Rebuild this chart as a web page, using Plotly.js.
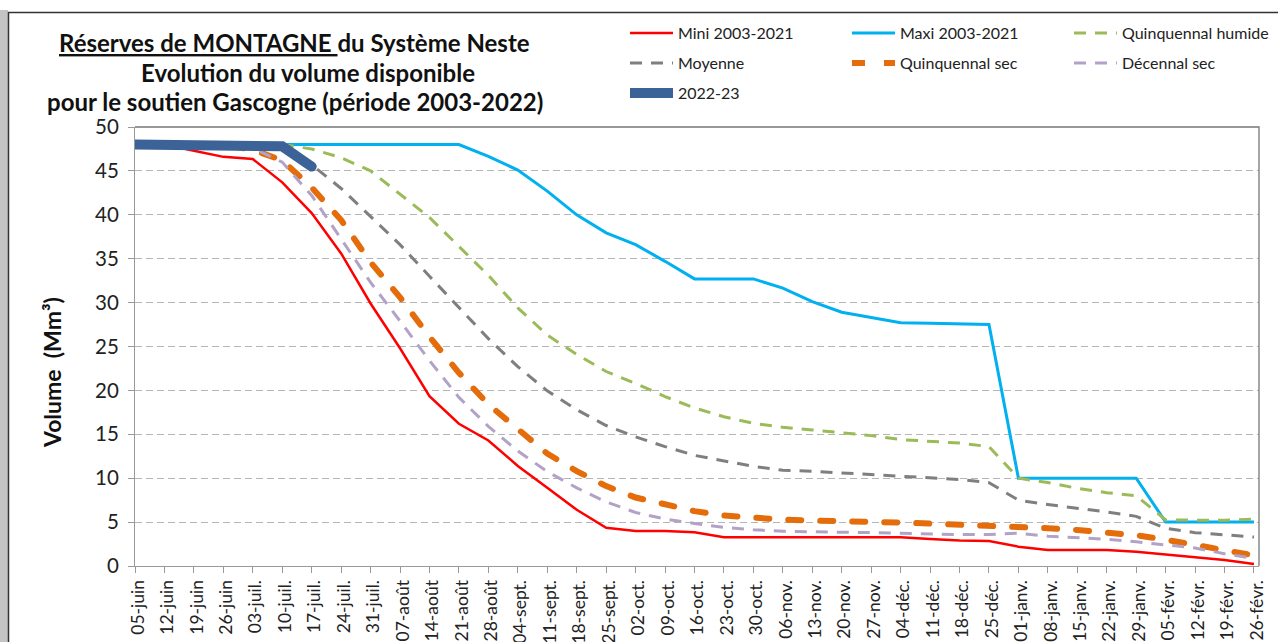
<!DOCTYPE html>
<html>
<head>
<meta charset="utf-8">
<script src="https://cdn.plot.ly/plotly-3.0.1.min.js"></script>
<style>
  html, body { margin: 0; padding: 0; background: #fff; }
  #chart { width: 1278px; height: 642px; }
</style>
</head>
<body>
<div id="chart"></div>
<script>
// ---- Data ----
const weekLabels = ['05-juin','12-juin','19-juin','26-juin','03-juil.','10-juil.','17-juil.','24-juil.','31-juil.','07-août','14-août','21-août','28-août','04-sept.','11-sept.','18-sept.','25-sept.','02-oct.','09-oct.','16-oct.','23-oct.','30-oct.','06-nov.','13-nov.','20-nov.','27-nov.','04-déc.','11-déc.','18-déc.','25-déc.','01-janv.','08-janv.','15-janv.','22-janv.','29-janv.','05-févr.','12-févr.','19-févr.','26-févr.'];

const mini = [48,48,47.3,46.6,46.35,43.7,40.2,35.6,29.9,24.8,19.35,16.2,14.3,11.4,8.9,6.4,4.35,4.0,4.0,3.85,3.27,3.27,3.27,3.27,3.3,3.3,3.27,3.08,2.9,2.85,2.2,1.82,1.82,1.82,1.63,1.33,0.99,0.68,0.23];
const maxi = [48,48,48,48,48,48,48,48,48,48,48,48,46.65,45.1,42.7,40.0,37.95,36.6,34.7,32.7,32.7,32.7,31.65,30.1,28.9,28.3,27.7,27.65,27.6,27.5,10.0,10.0,10.0,10.0,10.0,5.0,5.0,5.0,5.0];
const quinqHumide = [48,48,48,48,48,48,47.5,46.5,45.0,42.3,39.7,36.4,33.1,29.4,26.3,24.1,22.15,20.8,19.3,18.0,17.0,16.25,15.8,15.5,15.15,14.85,14.4,14.2,14.0,13.6,10.0,9.5,8.85,8.35,8.0,5.25,5.2,5.2,5.35];
const moyenne = [48,48,48,48,48,47.8,45.7,43.0,39.8,36.6,33.0,29.4,25.9,22.7,19.95,17.8,16.0,14.7,13.6,12.6,11.95,11.35,10.9,10.8,10.6,10.4,10.2,10.05,9.85,9.5,7.5,7.0,6.6,6.15,5.65,4.3,3.8,3.55,3.3];
const quinqSec = [48,48,48,48,47.4,46.2,43.1,39.4,34.6,30.6,26.1,22.0,18.4,15.5,12.8,10.8,9.1,7.8,6.95,6.25,5.75,5.45,5.28,5.18,5.15,5.08,4.95,4.83,4.73,4.63,4.47,4.3,4.1,3.85,3.5,3.0,2.4,1.8,1.2];
const decennalSec = [48,48,48,48,47.6,46.0,42.2,37.2,32.3,27.9,23.4,19.2,15.9,13.1,10.75,8.9,7.3,6.1,5.35,4.85,4.4,4.12,3.95,3.9,3.88,3.8,3.73,3.65,3.58,3.58,3.73,3.4,3.25,3.05,2.75,2.43,2.05,1.4,0.85];
const saison2022 = [48,48,48,48,48,47.8,45.5];

const yTicks = [0,5,10,15,20,25,30,35,40,45,50];

// ---- Build ----
const idx = weekLabels.map((_, i) => i);
const FONT = 'Lato, "Open Sans", sans-serif';

// geometry helpers (plot area: x 135..1259, y 127..566)
const L = 135, R = 19, T = 127, B = 76, W = 1278, H = 642;
const pw = W - L - R, ph = H - T - B;
const px = x => (x - L) / pw;
const py = y => (H - B - y) / ph;

function tr(name, y, color, width, dash, legend) {
  return {
    type: 'scatter', mode: 'lines', name: name,
    x: idx.slice(0, y.length), y: y,
    line: {color: color, width: width, dash: dash},
    legend: legend, hoverinfo: 'skip'
  };
}

const traces = [
  tr('Mini 2003-2021', mini, '#ff0000', 2.5, 'solid', 'legend'),
  tr('Maxi 2003-2021', maxi, '#00b0f0', 3, 'solid', 'legend'),
  tr('Quinquennal humide', quinqHumide, '#9bbb59', 3, '12px,9px', 'legend'),
  tr('Moyenne', moyenne, '#7f7f7f', 3, '12px,9px', 'legend2'),
  tr('Quinquennal sec', quinqSec, '#e46c0a', 6, '13px,19px', 'legend2'),
  tr('Décennal sec', decennalSec, '#b3a2c7', 3, '12px,9px', 'legend2'),
  tr('2022-23', saison2022, '#3b6398', 10, 'solid', 'legend3')
];

const legendBase = {
  orientation: 'h', xanchor: 'left', yanchor: 'middle',
  x: px(625), itemwidth: 43, entrywidth: 164, entrywidthmode: 'pixels',
  font: {family: FONT, size: 16, color: '#222'},
  bgcolor: 'rgba(0,0,0,0)', borderwidth: 0, traceorder: 'normal',
  itemclick: false, itemdoubleclick: false
};

const titleFont = {family: FONT, size: 24, color: '#111', weight: 'bold'};

const layout = {
  width: W, height: H,
  margin: {l: L, r: R, t: T, b: B, autoexpand: false},
  paper_bgcolor: '#ffffff', plot_bgcolor: '#ffffff',
  font: {family: FONT, color: '#222'},
  showlegend: true,
  legend: Object.assign({}, legendBase, {y: py(33)}),
  legend2: Object.assign({}, legendBase, {y: py(63)}),
  legend3: Object.assign({}, legendBase, {y: py(93)}),
  xaxis: {
    range: [0, 38.17], tickmode: 'array', tickvals: idx, ticktext: weekLabels,
    tickangle: -90, ticks: 'outside', ticklen: 6, tickcolor: '#999',
    ticklabelshift: 3,
    showline: true, linecolor: '#999', linewidth: 1,
    showgrid: false, zeroline: false,
    tickfont: {family: FONT, size: 17.5, color: '#222'}
  },
  yaxis: {
    range: [0, 50], tickmode: 'array', tickvals: yTicks,
    ticks: 'outside', ticklen: 6, tickcolor: '#999',
    showline: true, linecolor: '#999', linewidth: 1,
    showgrid: true, gridcolor: '#b5b5b5', griddash: '7px,4px', gridwidth: 1,
    zeroline: false, ticklabelstandoff: 5,
    tickfont: {family: FONT, size: 20.5, color: '#222'}
  },
  annotations: [
    {text: '<span style="text-decoration:underline">Réserves de MONTAGNE </span>du Système Neste',
     x: px(294.5), y: py(43)},
    {text: 'Evolution du volume disponible', x: px(308), y: py(73)},
    {text: 'pour le soutien Gascogne (période 2003-2022)', x: px(294.5), y: py(102)}
  ].map(a => Object.assign({
    xref: 'paper', yref: 'paper', xanchor: 'center', yanchor: 'middle',
    showarrow: false, font: titleFont
  }, a)).concat([
    {text: 'Volume  (Mm³)', xref: 'paper', yref: 'paper', x: px(52), y: py(373),
     xanchor: 'center', yanchor: 'middle', textangle: -90, showarrow: false,
     font: {family: FONT, size: 23, color: '#111', weight: 'bold'}}
  ]),
  shapes: [
    // outer chart frame with left shadow
    {type: 'rect', xref: 'paper', yref: 'paper', x0: px(0), x1: px(8), y0: py(700), y1: py(10),
     fillcolor: '#c4c4c4', line: {width: 0}, layer: 'below'},
    {type: 'rect', xref: 'paper', yref: 'paper', x0: px(8.5), x1: px(1400), y0: py(700), y1: py(12.5),
     fillcolor: 'rgba(0,0,0,0)', line: {color: '#333', width: 1.5}, layer: 'below'},
    // plot area top and right border
    {type: 'path', xref: 'paper', yref: 'paper', path: 'M0,1 L1,1 L1,0',
     line: {color: '#777', width: 1.3}, layer: 'above'}
  ]
};

Plotly.newPlot('chart', traces, layout, {staticPlot: true, displayModeBar: false}).then(function () {
  const groups = document.querySelectorAll('.scatterlayer .trace');
  [4, 6].forEach(function (i) {
    if (groups[i]) groups[i].querySelectorAll('path.js-line').forEach(function (p) {
      p.style.strokeLinecap = 'round';
    });
  });
});
</script>
</body>
</html>
